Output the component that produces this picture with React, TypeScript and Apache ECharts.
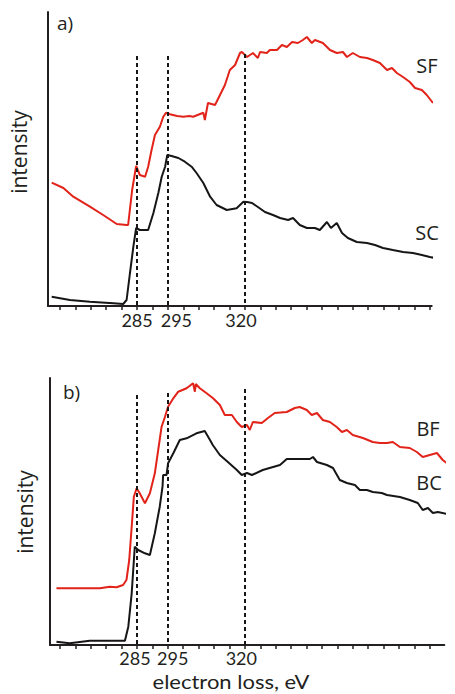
import React, { useEffect, useRef } from "react";
import * as echarts from "echarts";

// ---------- data (electron loss eV, intensity a.u.) ----------
const SF: [number, number][] = [
  [257.3, 123.3], [261.1, 118], [264.3, 109.3], [269.7, 99.3], [274.0, 91], [278.4, 82], [281.6, 81],
  [282.1, 81], [283.4, 116], [284.7, 140], [285.9, 131], [287.6, 129.3], [288.6, 139.3], [289.7, 156],
  [290.8, 171], [292.4, 179.3], [293.5, 189.3], [294.4, 193.3], [295.7, 191.7], [298.0, 190], [300.0, 189.3],
  [302.0, 190], [303.2, 189.3], [306.5, 193.3], [307.0, 186], [308.0, 203], [310.3, 201], [311.9, 211],
  [313.5, 221], [315.1, 236], [316.8, 241], [318.4, 253], [319.0, 254], [320.7, 249], [322.6, 253],
  [324.2, 248], [324.9, 254], [327.1, 253], [328.1, 256], [330.4, 256], [332.0, 261], [333.6, 259],
  [335.3, 264], [337.2, 263], [338.8, 266], [340.1, 269], [341.7, 263], [342.7, 266], [345.3, 263],
  [347.6, 256], [349.8, 253], [351.8, 254], [353.1, 249], [355.0, 253], [357.3, 249], [359.6, 248],
  [361.5, 246], [363.8, 243], [366.1, 236], [367.7, 238], [369.3, 233], [371.3, 229], [373.5, 224],
  [375.2, 218], [377.4, 216], [379.0, 211], [381.0, 203],
];
const SC: [number, number][] = [
  [257.3, 9.3], [263.2, 6], [269.7, 4.3], [277.3, 2.7], [280.5, 2], [281.6, 6], [282.7, 33], [283.8, 59.3],
  [284.7, 78], [285.9, 76], [288.6, 76], [290.3, 93], [291.9, 113], [293.0, 129.3], [294.1, 139.3],
  [294.8, 151], [296.2, 150], [298.4, 148], [300.5, 144.3], [302.7, 139.3], [304.3, 133], [306.5, 123],
  [308.7, 109.3], [310.8, 101], [314.1, 96], [317.3, 97.7], [319.5, 104.3], [320.7, 104], [322.3, 103],
  [324.2, 99], [326.5, 94], [329.1, 91], [331.4, 88], [334.0, 86], [335.6, 88], [337.8, 81], [340.1, 78],
  [342.7, 78], [344.3, 76], [346.6, 84], [347.9, 78], [349.8, 83], [351.5, 73], [353.4, 68], [356.3, 64],
  [359.6, 63], [362.2, 61], [364.8, 58], [368.0, 56], [371.3, 54], [374.5, 53], [377.4, 51], [380.0, 49],
  [381.6, 48],
];
const BF: [number, number][] = [
  [258.9, 56.7], [266.5, 56.7], [273.0, 56.7], [276.2, 58.3], [278.4, 57.7], [280.5, 60], [281.6, 65],
  [282.5, 85], [283.3, 118.3], [284.0, 148.3], [284.9, 156.7], [285.9, 151.7], [287.6, 141.7],
  [289.2, 151.7], [290.8, 171.7], [291.9, 195], [293.0, 218.3], [294.1, 228.3], [295.1, 238.3],
  [296.8, 246.7], [298.4, 253.3], [301.1, 256.7], [303.2, 261.7], [303.8, 253.3], [304.1, 261],
  [305.4, 256.7], [307.6, 251.7], [309.7, 246.7], [311.9, 240], [313.5, 230], [315.8, 230], [317.4, 223],
  [319.0, 218], [320.7, 220], [321.6, 215], [322.6, 223], [325.5, 222], [327.5, 227], [329.7, 232],
  [333.6, 233], [336.2, 237], [337.8, 238], [340.1, 235], [341.7, 230], [343.4, 232], [345.3, 225],
  [347.6, 223], [349.8, 218], [351.5, 213], [353.1, 215], [355.0, 210], [358.3, 207], [361.5, 203],
  [363.8, 202], [366.1, 202], [368.0, 203], [370.3, 198], [373.5, 197], [375.8, 193], [377.7, 188],
  [380.0, 190], [382.3, 192], [384.2, 185], [385.9, 181], [387.5, 183],
];
const BC: [number, number][] = [
  [258.9, 3.3], [263.2, 1.7], [269.7, 4.3], [276.2, 4.3], [281.1, 4.3], [282.2, 18.3], [283.3, 51.7],
  [284.3, 98.3], [285.4, 95], [287.6, 91.7], [289.2, 90], [290.8, 111.7], [292.4, 138.3], [293.3, 158.3],
  [293.5, 170], [294.6, 170], [295.1, 181.7], [296.8, 191.7], [298.9, 205], [301.1, 206.7], [304.3, 211.7],
  [307.0, 214], [308.7, 205], [309.6, 200], [311.9, 190], [314.5, 183], [317.4, 175], [319.0, 170],
  [320.7, 172], [322.3, 170], [325.8, 175], [331.4, 180], [333.6, 186], [341.1, 186], [342.1, 188],
  [343.4, 183], [346.6, 180], [348.6, 177], [350.8, 165], [353.1, 162], [355.7, 160], [357.3, 155],
  [359.6, 155], [361.5, 153], [364.4, 152], [366.1, 150], [370.3, 148], [373.5, 145], [376.1, 142],
  [377.7, 135], [379.4, 137], [381.0, 132], [382.6, 133], [385.5, 131],
];

const MARKERS = [285, 295, 320];
const MARKER_TOP_A = [250, 250, 252];
const MARKER_TOP_B = [250, 252, 256];
const TICKS = [260, 265, 270, 275, 280, 285, 290, 295, 300, 305, 310, 315, 320, 325, 330, 335, 340, 345, 350, 355, 360, 365, 370, 375, 380];
const TICK_LABELS = [285, 295, 320];

const FONT = "'Open Sans', 'Noto Sans', sans-serif";
const FONT2 = "Lato, 'Open Sans', sans-serif";
const INK = "#231f20";
const RED = "#e2231a";
const BLACK = "#161616";

function markLines(tops: number[]) {
  return {
    silent: true,
    symbol: ["none", "none"],
    label: { show: false },
    lineStyle: { type: [4, 3], width: 2, color: BLACK },
    data: MARKERS.map((m, i) => [{ coord: [m, tops[i]] }, { coord: [m, 0] }]),
  };
}

function xAxis(gridIndex: number, min: number, max: number, margin: number, shifts: Record<number, string>) {
  const base = { fontFamily: FONT2, fontSize: 18, color: INK };
  return {
    type: "value",
    gridIndex,
    min,
    max,
    splitLine: { show: false },
    axisLine: { show: true, lineStyle: { color: INK, width: 2 } },
    axisTick: { show: true, customValues: TICKS, length: 4, lineStyle: { color: INK, width: 1.5 } },
    axisLabel: {
      show: true,
      hideOverlap: false,
      showMinLabel: true,
      showMaxLabel: true,
      customValues: TICK_LABELS,
      margin,
      color: INK,
      fontFamily: FONT2,
      fontSize: 18,
      formatter: (v: number) => `{${shifts[v] || "c"}|${v}}`,
      rich: {
        c: { ...base },
        r8: { ...base, padding: [0, 0, 0, 17] },
        r5: { ...base, padding: [0, 0, 0, 10] },
        l2: { ...base, padding: [0, 4, 0, 0] },
        l4: { ...base, padding: [0, 8, 0, 0] },
        l3: { ...base, padding: [0, 7, 0, 0] },
      },
    },
  };
}

function yAxis(gridIndex: number, max: number) {
  return {
    type: "value",
    gridIndex,
    min: 0,
    max,
    splitLine: { show: false },
    axisTick: { show: false },
    axisLabel: { show: false },
    axisLine: { show: true, lineStyle: { color: INK, width: 2 } },
  };
}

function text(t: string, x: number, y: number, size: number, align = "center", rotation = 0, family = FONT, scaleX = 1) {
  return {
    type: "text",
    x,
    y,
    rotation,
    scaleX,
    silent: true,
    style: {
      text: t,
      fill: INK,
      font: `${size}px ${family}`,
      align,
      textAlign: align,
      verticalAlign: "middle",
      textVerticalAlign: "middle",
    },
  };
}

export default function App() {
  const ref = useRef<HTMLDivElement>(null);
  useEffect(() => {
    if (!ref.current) return;
    const chart = echarts.init(ref.current, null, { renderer: "svg" });
    const line = (data: [number, number][], color: string, xi: number, extra: any = {}) => ({
      type: "line",
      xAxisIndex: xi,
      yAxisIndex: xi,
      data,
      showSymbol: false,
      symbol: "none",
      clip: false,
      lineStyle: { color, width: 2 },
      ...extra,
    });
    chart.setOption({
      animation: false,
      backgroundColor: "#ffffff",
      grid: [
        { left: 48, top: 12, width: 383.7, height: 294 },
        { left: 50, top: 378, width: 394.3, height: 267 },
      ],
      xAxis: [
        xAxis(0, 256.1, 380.6, 5, { 285: "c", 295: "r8", 320: "l4" }),
        xAxis(1, 256.8, 384.7, 4, { 285: "l2", 295: "r5", 320: "l3" }),
      ],
      yAxis: [yAxis(0, 294), yAxis(1, 267)],
      series: [
        line(SF, RED, 0),
        line(SC, BLACK, 0, { markLine: markLines(MARKER_TOP_A) }),
        line(BF, RED, 1),
        line(BC, BLACK, 1, { markLine: markLines(MARKER_TOP_B) }),
      ],
      graphic: [
        text("a)", 57, 23, 19, "left"),
        text("SF", 427, 65, 20),
        text("SC", 427, 232, 20),
        text("intensity", 19, 152, 21, "center", Math.PI / 2),
        text("b)", 63, 392, 19, "left"),
        text("BF", 428, 428, 20),
        text("BC", 429, 482, 20),
        text("intensity", 25, 512, 21, "center", Math.PI / 2),
        text("electron loss, eV", 231, 681, 20, "center", 0, FONT2, 1.1),
      ],
    });
    return () => chart.dispose();
  }, []);
  return (
    <div
      ref={ref}
      style={{ position: "absolute", left: 0, top: 0, width: 455, height: 694, background: "#fff" }}
    />
  );
}
